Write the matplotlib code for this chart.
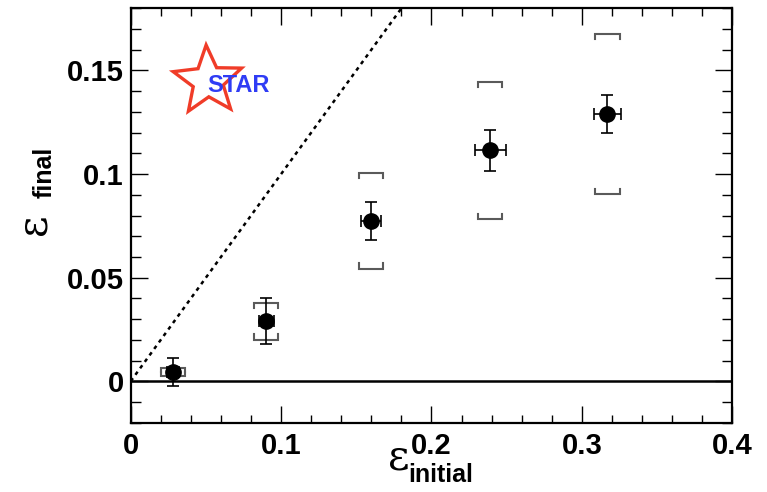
import numpy as np
import matplotlib
matplotlib.use("Agg")
import matplotlib.pyplot as plt
from matplotlib.patches import Polygon
from matplotlib.ticker import MultipleLocator, FuncFormatter

# Measured eccentricities
eps_initial = [0.028, 0.090, 0.160, 0.239, 0.317]
eps_final = [0.0045, 0.029, 0.0775, 0.1115, 0.129]
stat_x = [0.004, 0.005, 0.0066, 0.0104, 0.0092]
stat_y = [0.0067, 0.011, 0.0091, 0.0100, 0.0090]
sys_y = [0.0019, 0.0089, 0.0231, 0.0331, 0.0387]

x_ticks = [0, 0.1, 0.2, 0.3, 0.4]
y_ticks = [0, 0.05, 0.1, 0.15]

W, H = 767, 492
fig = plt.figure(figsize=(W / 100, H / 100), dpi=100)
L, R, T, B = 130.7, 732.3, 8.3, 422.7
ax = fig.add_axes([L / W, 1 - B / H, (R - L) / W, (B - T) / H])
ax.set_xlim(0, 0.4)
ax.set_ylim(-0.02, 0.18)

# reference lines
xs = np.array([0.0, 0.4])
ax.plot(xs, xs, ls=(0, (1.5, 1.7)), color="black", lw=1.8, zorder=2)
ax.axhline(0, color="black", lw=1.8, zorder=2)

# systematic brackets
half_w = 0.008
tick_len = 0.0025
grey = "#5a5a5a"
for xi, yi, si in zip(eps_initial, eps_final, sys_y):
    t = min(tick_len, si)
    top, bot = yi + si, yi - si
    ax.plot([xi - half_w, xi - half_w, xi + half_w, xi + half_w],
            [top - t, top, top, top - t], color=grey, lw=1.5, zorder=3,
            solid_joinstyle="miter")
    ax.plot([xi - half_w, xi - half_w, xi + half_w, xi + half_w],
            [bot + t, bot, bot, bot + t], color=grey, lw=1.5, zorder=3,
            solid_joinstyle="miter")

# statistical errors and points
ax.errorbar(eps_initial, eps_final, xerr=stat_x, yerr=stat_y, fmt="o",
            color="black", ms=11, elinewidth=1.2, capsize=4.5, capthick=1.2,
            zorder=4)

# axes styling
for sp in ax.spines.values():
    sp.set_linewidth(1.6)
ax.xaxis.set_major_locator(MultipleLocator(0.1))
ax.xaxis.set_minor_locator(MultipleLocator(0.02))
ax.yaxis.set_major_locator(MultipleLocator(0.05))
ax.yaxis.set_minor_locator(MultipleLocator(0.01))
ax.tick_params(which="both", direction="in", top=True, right=True, width=1.0)
ax.tick_params(axis="x", which="major", length=12, pad=7)
ax.tick_params(axis="x", which="minor", length=6)
ax.tick_params(axis="y", which="major", length=12, pad=5)
ax.tick_params(axis="y", which="minor", length=7)


def fmt(v, pos):
    if abs(v) < 1e-9:
        return "0"
    return ("%.2f" % v).rstrip("0")


ax.xaxis.set_major_formatter(FuncFormatter(fmt))
ax.yaxis.set_major_formatter(FuncFormatter(fmt))
ax.set_yticks(y_ticks)
ax.set_yticks(np.arange(-0.02, 0.1801, 0.01), minor=True)
ax.set_xticks(x_ticks)
for lab in ax.get_xticklabels() + ax.get_yticklabels():
    lab.set_fontfamily("Liberation Sans")
    lab.set_fontweight("bold")
    lab.set_fontsize(21)

# axis titles
fig.text(399 / W, 1 - 457 / H, "\u03b5", fontsize=30, family="DejaVu Serif",
         ha="center", va="center")
fig.text(441 / W, 1 - 475 / H, "initial", fontsize=18, fontweight="bold",
         family="Liberation Sans", ha="center", va="center")
fig.text(33 / W, 1 - 224 / H, "\u03b5", fontsize=30, family="DejaVu Serif",
         ha="center", va="center", rotation=90)
fig.text(45 / W, 1 - 172 / H, "final", fontsize=18, fontweight="bold",
         family="Liberation Sans", ha="center", va="center", rotation=90)

# STAR logo
cx, cy, r_out = 208, 81, 36
ang = np.deg2rad(90 + 3) + np.arange(10) * np.pi / 5
rad = np.where(np.arange(10) % 2 == 0, r_out, r_out * 0.44)
px = cx + rad * np.cos(ang)
py = cy - rad * np.sin(ang)
star = Polygon(np.column_stack([px / W, 1 - py / H]), closed=True,
               transform=fig.transFigure, facecolor="white",
               edgecolor="#f03c28", lw=2.4, zorder=5)
fig.add_artist(star)
fig.text(238 / W, 1 - 85 / H, "STAR", fontsize=17, fontweight="bold",
         family="Liberation Sans", color="#2f3cf5", ha="center", va="center",
         zorder=6)

fig.savefig("out.png", dpi=100)
